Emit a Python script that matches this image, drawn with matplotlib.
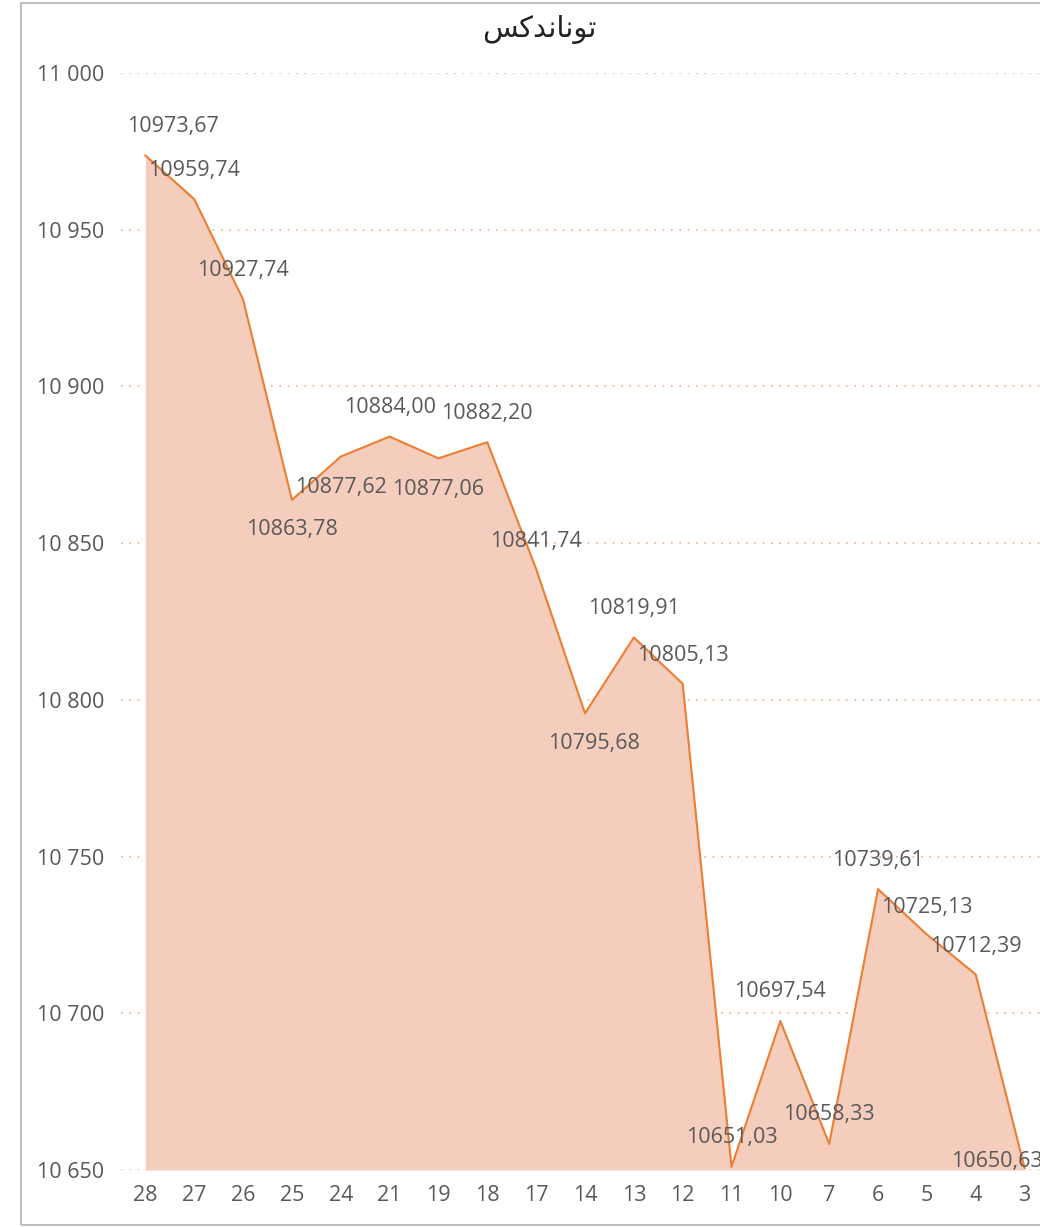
import numpy as np
import matplotlib.pyplot as plt
from matplotlib.patches import Rectangle

days = ['28', '27', '26', '25', '24', '21', '19', '18', '17', '14',
        '13', '12', '11', '10', '7', '6', '5', '4', '3']
values = [10973.67, 10959.74, 10927.74, 10863.78, 10877.62, 10884.00,
          10877.06, 10882.20, 10841.74, 10795.68, 10819.91, 10805.13,
          10651.03, 10697.54, 10658.33, 10739.61, 10725.13, 10712.39,
          10650.63]
yticks = [10650, 10700, 10750, 10800, 10850, 10900, 10950, 11000]

# label offsets in pixels (dx, dy), y pointing up
offsets = [(28, 29), (0, 29), (0, 29), (0, -30), (0, -31), (0, 29),
           (0, -31), (0, 29), (0, 28), (9, -30), (0, 29), (0, 28),
           (0, 29), (0, 29), (0, 29), (0, 29), (0, 27), (0, 28),
           (-28, 7)]

# title "توناندكس" written with presentation forms in visual order
title = "\uFEB2\uFEDB\uFEAA\uFEE7\uFE8E\uFEE7\uFEEE\uFE97"

grey = '#595959'
fig = plt.figure(figsize=(10.4, 12.27), dpi=100)
ax = fig.add_axes([121/1040, 1 - 1170/1227, 928/1040, (1170 - 73)/1227])

x = np.arange(len(values))
ax.fill_between(x, values, 10650, color='#F5CDBC', lw=0, zorder=2)
ax.plot(x, values, color='#ED7D31', lw=1.5, zorder=3)

for i in range(len(values)):
    lab = ('%.2f' % values[i]).replace('.', ',')
    ax.annotate(lab, (x[i], values[i]), xytext=offsets[i],
                textcoords='offset pixels', ha='center', va='center',
                fontsize=15.5, color=grey, family='Open Sans', zorder=4,
                annotation_clip=False)

ax.set_xlim(-0.5, len(values) - 0.5)
ax.set_ylim(10650, 11000)
ax.set_xticks(x)
ax.set_xticklabels(days)
ax.set_yticks(yticks)
ax.set_yticklabels([('%d' % v)[:-3] + ' ' + ('%d' % v)[-3:] for v in yticks])
ax.tick_params(length=0, labelsize=15.5, labelcolor=grey)
ax.tick_params(axis='y', pad=12)
ax.tick_params(axis='x', pad=11)
for lbl in ax.get_xticklabels() + ax.get_yticklabels():
    lbl.set_family('Open Sans')
ax.grid(axis='y', color='#F1AE8C', linestyle=(0, (1, 4)), lw=1.2, zorder=1)
for s in ax.spines.values():
    s.set_visible(False)

fig.text(539/1040, 1 - 30/1227, title, ha='center', va='center',
         fontsize=21, family='DejaVu Sans', color='#222222')

fig.patches.append(Rectangle((21/1040, 2/1227), 1.1, 1222/1227,
                             transform=fig.transFigure, fill=False,
                             ec='#BFBFBF', lw=1.5))

fig.savefig('out.png', dpi=100)
